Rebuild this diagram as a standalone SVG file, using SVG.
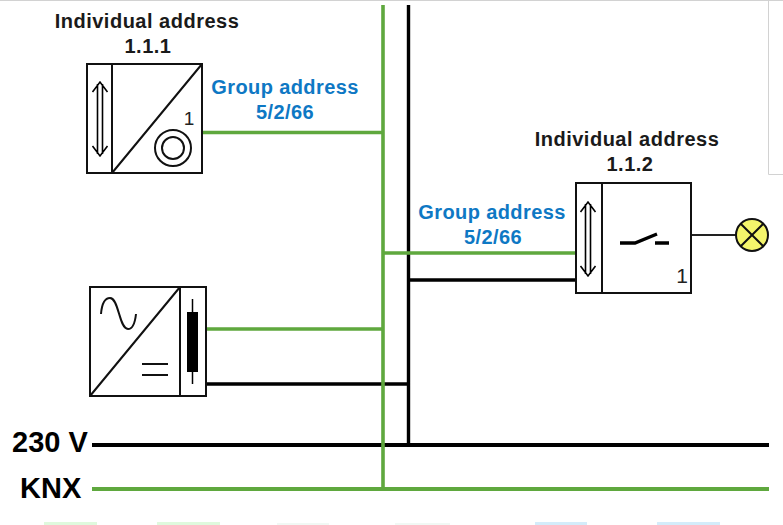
<svg xmlns="http://www.w3.org/2000/svg" width="783" height="525" viewBox="0 0 783 525">
<style>
.t{font-family:"Liberation Sans",Arial,sans-serif;font-weight:700;text-anchor:middle}
.b{font-size:20px;fill:#1a1a1a;letter-spacing:.5px}
.g{font-size:20px;fill:#0e78c4;letter-spacing:.4px}
.m{font-size:29px;fill:#000;text-anchor:start}
.n{font-family:"Liberation Sans",Arial,sans-serif;fill:#222;text-anchor:middle}
.box{fill:#fff;stroke:#111;stroke-width:2}
.l{fill:none;stroke:#111;stroke-width:2}
.th{fill:none;stroke:#000;stroke-width:1.6}
.gr{fill:none;stroke:#5fa83e;stroke-width:3.6}
.bk{fill:none;stroke:#000;stroke-width:3.4}
.bus{stroke-width:4}
.edge{fill:none;stroke:#d2d2d2;stroke-width:1}
</style>
<defs>
<g id="arrows"><path class="th" d="M-2.500 3V73M2.500 3V73M-7.500 11L0 1L7.500 11M-7.500 65L0 75L7.500 65"/></g>
</defs>
<rect width="783" height="525" fill="#fff"/>
<g id="artifacts">
<path class="edge" d="M0 .5H783M768.500 0V174.500H783"/>
<path d="M44 522h53v3h-53zM157 522h63v3h-63z" fill="#dff9dd"/>
<path d="M277 523h52v2h-52zM395 523h55v2h-55z" fill="#f1f8f4"/>
<path d="M535 522h52v3h-52zM657 522h63v3h-63z" fill="#d4ecfa"/>
</g>
<g id="connectors">
<path class="bk" d="M408.500 5V445M409 280H576M206 384H409"/>
<path class="bk bus" d="M92 445H769"/>
<path class="gr" d="M383 5V489M202 132.500H383M383 253H576M206 329H383"/>
<path class="gr bus" d="M92 489H769"/>
<path d="M691 235H736" fill="none" stroke="#222" stroke-width="2"/>
</g>
<g id="node-sensor">
<rect class="box" x="87" y="64" width="115" height="109"/>
<path class="l" d="M112 64V173M202 64L112 173"/>
<use href="#arrows" x="100" y="81"/>
<circle class="l" cx="173" cy="148" r="18"/>
<circle class="l" cx="173" cy="148" r="11"/>
<text class="n" x="189" y="125" font-size="19">1</text>
</g>
<g id="node-actuator">
<rect class="box" x="576" y="183" width="115" height="110"/>
<path class="l" d="M602 183V293"/>
<use href="#arrows" x="588" y="201"/>
<path d="M620 243H635L657 234M655 243H669" fill="none" stroke="#000" stroke-width="3.400"/>
<text class="n" x="682" y="283" font-size="21">1</text>
</g>
<g id="node-lamp">
<circle cx="752" cy="235" r="16" fill="#f4f56b" stroke="#111" stroke-width="2"/>
<path class="l" d="M740.700 223.700L763.300 246.300M763.300 223.700L740.700 246.300"/>
</g>
<g id="node-power">
<rect class="box" x="90" y="287" width="116" height="109"/>
<path class="l" d="M180 287V396M180 287L90 396"/>
<path class="l" d="M101 314C102 302 106 298 110 298C119 298 119 329 128 329C132 329 135 323 136 314"/>
<path class="l" d="M142 364H168M142 375H168"/>
<path d="M192.500 299V384" stroke="#000" stroke-width="1.500"/>
<rect x="187" y="312" width="11" height="60" fill="#000"/>
</g>
<g id="labels">
<text class="t b" x="147" y="28">Individual address</text>
<text class="t b" x="148" y="53">1.1.1</text>
<text class="t g" x="285" y="94">Group address</text>
<text class="t g" x="285" y="119">5/2/66</text>
<text class="t b" x="627" y="146">Individual address</text>
<text class="t b" x="630" y="171">1.1.2</text>
<text class="t g" x="492" y="219">Group address</text>
<text class="t g" x="493" y="244">5/2/66</text>
<text class="t m" x="12" y="452">230 V</text>
<text class="t m" x="20" y="498">KNX</text>
</g>
</svg>
